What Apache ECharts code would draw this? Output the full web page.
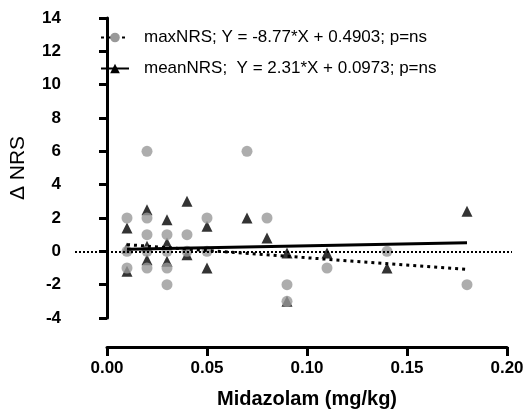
<!DOCTYPE html>
<html lang="en">
<head>
    <meta charset="UTF-8">
    <title>Midazolam vs ΔNRS</title>
    <script src="https://cdn.jsdelivr.net/npm/echarts@6/dist/echarts.min.js"></script>
    <style>
        html, body { margin: 0; padding: 0; background: #fff; }
        #chart { width: 528px; height: 414px; }
    </style>
</head>
<body>
<div id="chart"></div>
<script type="text/javascript">
    // maxNRS (grey circles)
    var maxDose = [0.01, 0.01, 0.01, 0.02, 0.02, 0.02, 0.02, 0.02, 0.03, 0.03, 0.03, 0.03,
                   0.04, 0.04, 0.05, 0.05, 0.07, 0.08, 0.09, 0.09, 0.11, 0.14, 0.18];
    var maxNRS  = [2, 0, -1, 6, 2, 1, 0, -1, 1, 0, -1, -2,
                   1, 0, 2, 0, 6, 2, -2, -3, -1, 0, -2];
    // meanNRS (black triangles)
    var meanDose = [0.01, 0.01, 0.01, 0.02, 0.02, 0.02, 0.03, 0.03, 0.03,
                    0.04, 0.04, 0.05, 0.05, 0.07, 0.08, 0.09, 0.09, 0.11, 0.14, 0.18];
    var meanNRS  = [1.4, 0.2, -1.2, 2.5, 0.3, -0.5, 1.9, 0.5, -0.6,
                    3, -0.2, 1.5, -1, 2, 0.8, -0.1, -3, -0.1, -1, 2.4];
    // linear fits as printed in the legend
    var fitNames = ['maxNRS; Y = -8.77*X + 0.4903; p=ns', 'meanNRS;  Y = 2.31*X + 0.0973; p=ns'];
    var fitSlope = [-8.77, 2.31];
    var fitIntercept = [0.4903, 0.0973];
    var fitRange = [0.01, 0.18];
    var yTicks = [-4, 14, 2];
    var xTicks = [0, 0.2, 0.05];

    function pairs(xs, ys) {
        var out = [];
        for (var i = 0; i < xs.length; i++) out.push([xs[i], ys[i]]);
        return out;
    }
    function fitLine(k) {
        return fitRange.map(function (x) { return [x, fitSlope[k] * x + fitIntercept[k]]; });
    }

    var font = 'Liberation Sans, Arial, sans-serif';
    var chart = echarts.init(document.getElementById('chart'));
    var option = {
        animation: false,
        backgroundColor: '#fff',
        textStyle: { fontFamily: font },
        legend: {
            data: fitNames,
            orient: 'vertical',
            left: 100,
            top: 29,
            padding: 0,
            itemWidth: 28,
            itemHeight: 12,
            itemGap: 14,
            textStyle: { fontSize: 17, color: '#000', fontFamily: font, padding: [0, 0, 0, 10] }
        },
        grid: [
            { left: 75, right: 16, top: 18, height: 300 },
            { left: 107, width: 400, top: 18, height: 335 }
        ],
        xAxis: [{
            gridIndex: 0, type: 'value', min: -0.016, max: 0.2025, show: false
        }, {
            gridIndex: 1, type: 'value', min: xTicks[0], max: xTicks[1], interval: xTicks[2],
            name: 'Midazolam (mg/kg)', nameLocation: 'middle', nameGap: 42,
            nameTextStyle: { fontSize: 20, fontWeight: 'bold', color: '#000', fontFamily: font },
            axisLine: { lineStyle: { color: '#000', width: 3 } },
            axisTick: { length: 9, lineStyle: { color: '#000', width: 3 } },
            axisLabel: { margin: 13, fontSize: 17, fontWeight: 'bold', color: '#000', fontFamily: font,
                formatter: function (v) { return v.toFixed(2); } },
            splitLine: { show: false }
        }],
        yAxis: [{
            gridIndex: 0, type: 'value', min: yTicks[0], max: yTicks[1], interval: yTicks[2],
            name: 'Δ NRS', nameLocation: 'middle', nameGap: 46, nameRotate: 90,
            nameTextStyle: { fontSize: 21, color: '#000', fontFamily: font },
            axisLine: { show: true, lineStyle: { color: '#000', width: 3 } },
            axisTick: { show: true, length: 8, lineStyle: { color: '#000', width: 3 } },
            axisLabel: { margin: 14, fontSize: 17, fontWeight: 'bold', color: '#000', fontFamily: font },
            splitLine: { show: false }
        }, {
            gridIndex: 1, type: 'value', min: 0, max: 1, show: false
        }],
        series: [{
            name: 'meanNRS points',
            type: 'scatter',
            symbol: 'triangle',
            symbolSize: 11,
            itemStyle: { color: '#000' },
            data: pairs(meanDose, meanNRS),
            z: 2,
            markLine: {
                silent: true,
                symbol: 'none',
                label: { show: false },
                lineStyle: { color: '#000', width: 2, type: [2, 2] },
                data: [{ yAxis: 0 }]
            }
        }, {
            name: 'maxNRS points',
            type: 'scatter',
            symbol: 'circle',
            symbolSize: 11,
            itemStyle: { color: '#999' },
            data: pairs(maxDose, maxNRS),
            z: 3
        }, {
            name: fitNames[0],
            type: 'line',
            symbol: 'circle',
            symbolSize: 10,
            showSymbol: false,
            itemStyle: { color: '#999' },
            lineStyle: { color: '#000', width: 3, type: [3, 4] },
            data: fitLine(0),
            z: 4
        }, {
            name: fitNames[1],
            type: 'line',
            symbol: 'triangle',
            symbolSize: 10,
            showSymbol: false,
            itemStyle: { color: '#000' },
            lineStyle: { color: '#000', width: 3 },
            data: fitLine(1),
            z: 4
        }]
    };
    chart.setOption(option);
</script>
</body>
</html>
